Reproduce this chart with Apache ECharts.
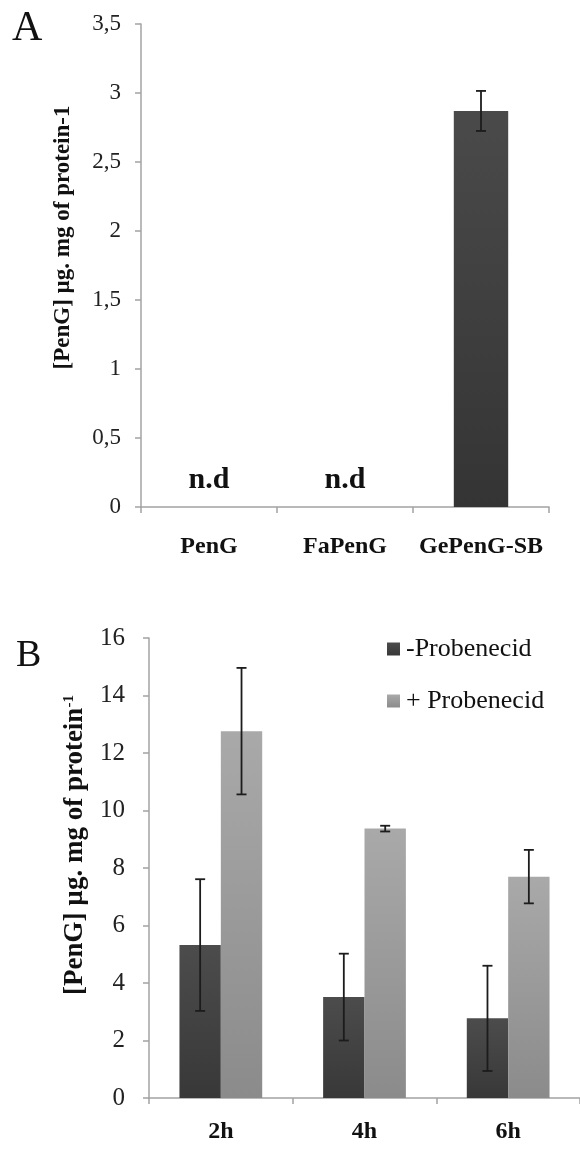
<!DOCTYPE html>
<html>
<head>
<meta charset="utf-8">
<script src="https://cdn.jsdelivr.net/npm/echarts@6/dist/echarts.min.js"></script>
<style>html,body{margin:0;padding:0;background:#fff;}#c{width:580px;height:1151px;}</style>
</head>
<body>
<div id="c"></div>
<script>
// ---- Panel A data ----
const categoriesA = ['PenG', 'FaPenG', 'GePenG-SB'];
const valuesA = [0, 0, 2.87];
const errorsA = [0, 0, 0.145];
const ndLabelsA = ['n.d', 'n.d', ''];
// ---- Panel B data ----
const categoriesB = ['2h', '4h', '6h'];
const seriesNamesB = ['-Probenecid', '+ Probenecid'];
const minusProb = [5.32, 3.51, 2.77];
const minusErr = [2.29, 1.51, 1.83];
const plusProb = [12.76, 9.37, 7.70];
const plusErr = [2.20, 0.10, 0.93];

const FONT = '"Liberation Serif", "Times New Roman", serif';
const AXIS_COLOR = '#a3a3a3';

function grad(top, bottom) {
  return new echarts.graphic.LinearGradient(0, 0, 0, 1, [
    { offset: 0, color: top }, { offset: 1, color: bottom }
  ]);
}

function errData(vals, errs) {
  const out = [];
  vals.forEach((v, i) => { if (errs[i] > 0) out.push([i, v - errs[i], v + errs[i]]); });
  return out;
}

function errRender(offsetFrac) {
  return function (params, api) {
    const cat = api.value(0);
    const lo = api.coord([cat, api.value(1)]);
    const hi = api.coord([cat, api.value(2)]);
    const band = api.size([1, 0])[0];
    const x = hi[0] + offsetFrac * band;
    const cap = 5;
    const st = { stroke: '#1c1c1c', lineWidth: 1.8 };
    return {
      type: 'group',
      children: [
        { type: 'line', shape: { x1: x, y1: lo[1], x2: x, y2: hi[1] }, style: st },
        { type: 'line', shape: { x1: x - cap, y1: hi[1], x2: x + cap, y2: hi[1] }, style: st },
        { type: 'line', shape: { x1: x - cap, y1: lo[1], x2: x + cap, y2: lo[1] }, style: st }
      ]
    };
  };
}

const commaFmt = v => String(v).replace('.', ',');

const chart = echarts.init(document.getElementById('c'), null, { renderer: 'canvas' });

const option = {
  animation: false,
  backgroundColor: '#ffffff',
  textStyle: { fontFamily: FONT },
  grid: [
    { left: 141, top: 24, width: 408, height: 483 },
    { left: 149, top: 638, width: 438, height: 460 }
  ],
  xAxis: [
    {
      type: 'category', gridIndex: 0, data: categoriesA,
      axisLine: { lineStyle: { color: AXIS_COLOR, width: 1.5 } },
      axisTick: { show: true, length: 6, lineStyle: { color: AXIS_COLOR, width: 1.5 } },
      axisLabel: { interval: 0, color: '#111', fontFamily: FONT, fontWeight: 'bold', fontSize: 24, margin: 28 }
    },
    {
      type: 'category', gridIndex: 1, data: categoriesB,
      axisLine: { lineStyle: { color: AXIS_COLOR, width: 1.5 } },
      axisTick: { show: true, length: 6, lineStyle: { color: AXIS_COLOR, width: 1.5 } },
      axisLabel: { interval: 0, color: '#111', fontFamily: FONT, fontWeight: 'bold', fontSize: 24, margin: 22 }
    }
  ],
  yAxis: [
    {
      type: 'value', gridIndex: 0, min: 0, max: 3.5, interval: 0.5,
      name: '[PenG] µg. mg of protein-1', nameLocation: 'middle', nameRotate: 90, nameGap: 66,
      nameTextStyle: { color: '#111', fontFamily: FONT, fontWeight: 'bold', fontSize: 23, padding: [0, 0, 0, 56] },
      axisLine: { show: true, lineStyle: { color: AXIS_COLOR, width: 1.5 } },
      axisTick: { show: true, length: 6, lineStyle: { color: AXIS_COLOR, width: 1.5 } },
      splitLine: { show: false },
      axisLabel: { color: '#222', fontFamily: FONT, fontSize: 23, margin: 20, formatter: commaFmt }
    },
    {
      type: 'value', gridIndex: 1, min: 0, max: 16, interval: 2,
      name: '[PenG] µg. mg of protein{sup|-1}', nameLocation: 'middle', nameRotate: 90, nameGap: 60,
      nameTextStyle: {
        color: '#111', fontFamily: FONT, fontWeight: 'bold', fontSize: 27, padding: [0, 0, 0, 46],
        rich: { sup: { color: '#111', fontFamily: FONT, fontWeight: 'bold', fontSize: 15, verticalAlign: 'top', lineHeight: 27 } }
      },
      axisLine: { show: true, lineStyle: { color: AXIS_COLOR, width: 1.5 } },
      axisTick: { show: true, length: 6, lineStyle: { color: AXIS_COLOR, width: 1.5 } },
      splitLine: { show: false },
      axisLabel: { color: '#222', fontFamily: FONT, fontSize: 25, margin: 24 }
    }
  ],
  legend: {
    orient: 'vertical', left: 382, top: 631,
    data: seriesNamesB,
    itemWidth: 13, itemHeight: 13, itemGap: 26, icon: 'rect',
    textStyle: { color: '#111', fontFamily: FONT, fontSize: 26, lineHeight: 26, padding: [0, 0, 0, 1] }
  },
  series: [
    {
      type: 'bar', xAxisIndex: 0, yAxisIndex: 0, barWidth: '40%',
      data: valuesA.map((v, i) => ({
        value: v,
        label: ndLabelsA[i] ? { show: true, position: 'top', distance: 12, formatter: ndLabelsA[i],
          color: '#111', fontFamily: FONT, fontWeight: 'bold', fontSize: 30 } : { show: false }
      })),
      itemStyle: { color: grad('#4a4a4a', '#343434') }
    },
    {
      type: 'custom', xAxisIndex: 0, yAxisIndex: 0, z: 5,
      renderItem: errRender(0), data: errData(valuesA, errorsA)
    },
    {
      name: seriesNamesB[0], type: 'bar', xAxisIndex: 1, yAxisIndex: 1,
      barWidth: '28.8%', barGap: '0%', data: minusProb,
      itemStyle: { color: grad('#4c4c4c', '#383838') }
    },
    {
      name: seriesNamesB[1], type: 'bar', xAxisIndex: 1, yAxisIndex: 1,
      barWidth: '28.8%', barGap: '0%', data: plusProb,
      itemStyle: { color: grad('#a9a9a9', '#8b8b8b') }
    },
    {
      type: 'custom', xAxisIndex: 1, yAxisIndex: 1, z: 5,
      renderItem: errRender(-0.144), data: errData(minusProb, minusErr)
    },
    {
      type: 'custom', xAxisIndex: 1, yAxisIndex: 1, z: 5,
      renderItem: errRender(0.144), data: errData(plusProb, plusErr)
    }
  ],
  graphic: [
    { type: 'text', left: 12, top: 8, style: { text: 'A', font: '42px ' + FONT, fill: '#111' } },
    { type: 'text', left: 16, top: 637, style: { text: 'B', font: '38px ' + FONT, fill: '#111' } }
  ]
};

chart.setOption(option);
</script>
</body>
</html>
